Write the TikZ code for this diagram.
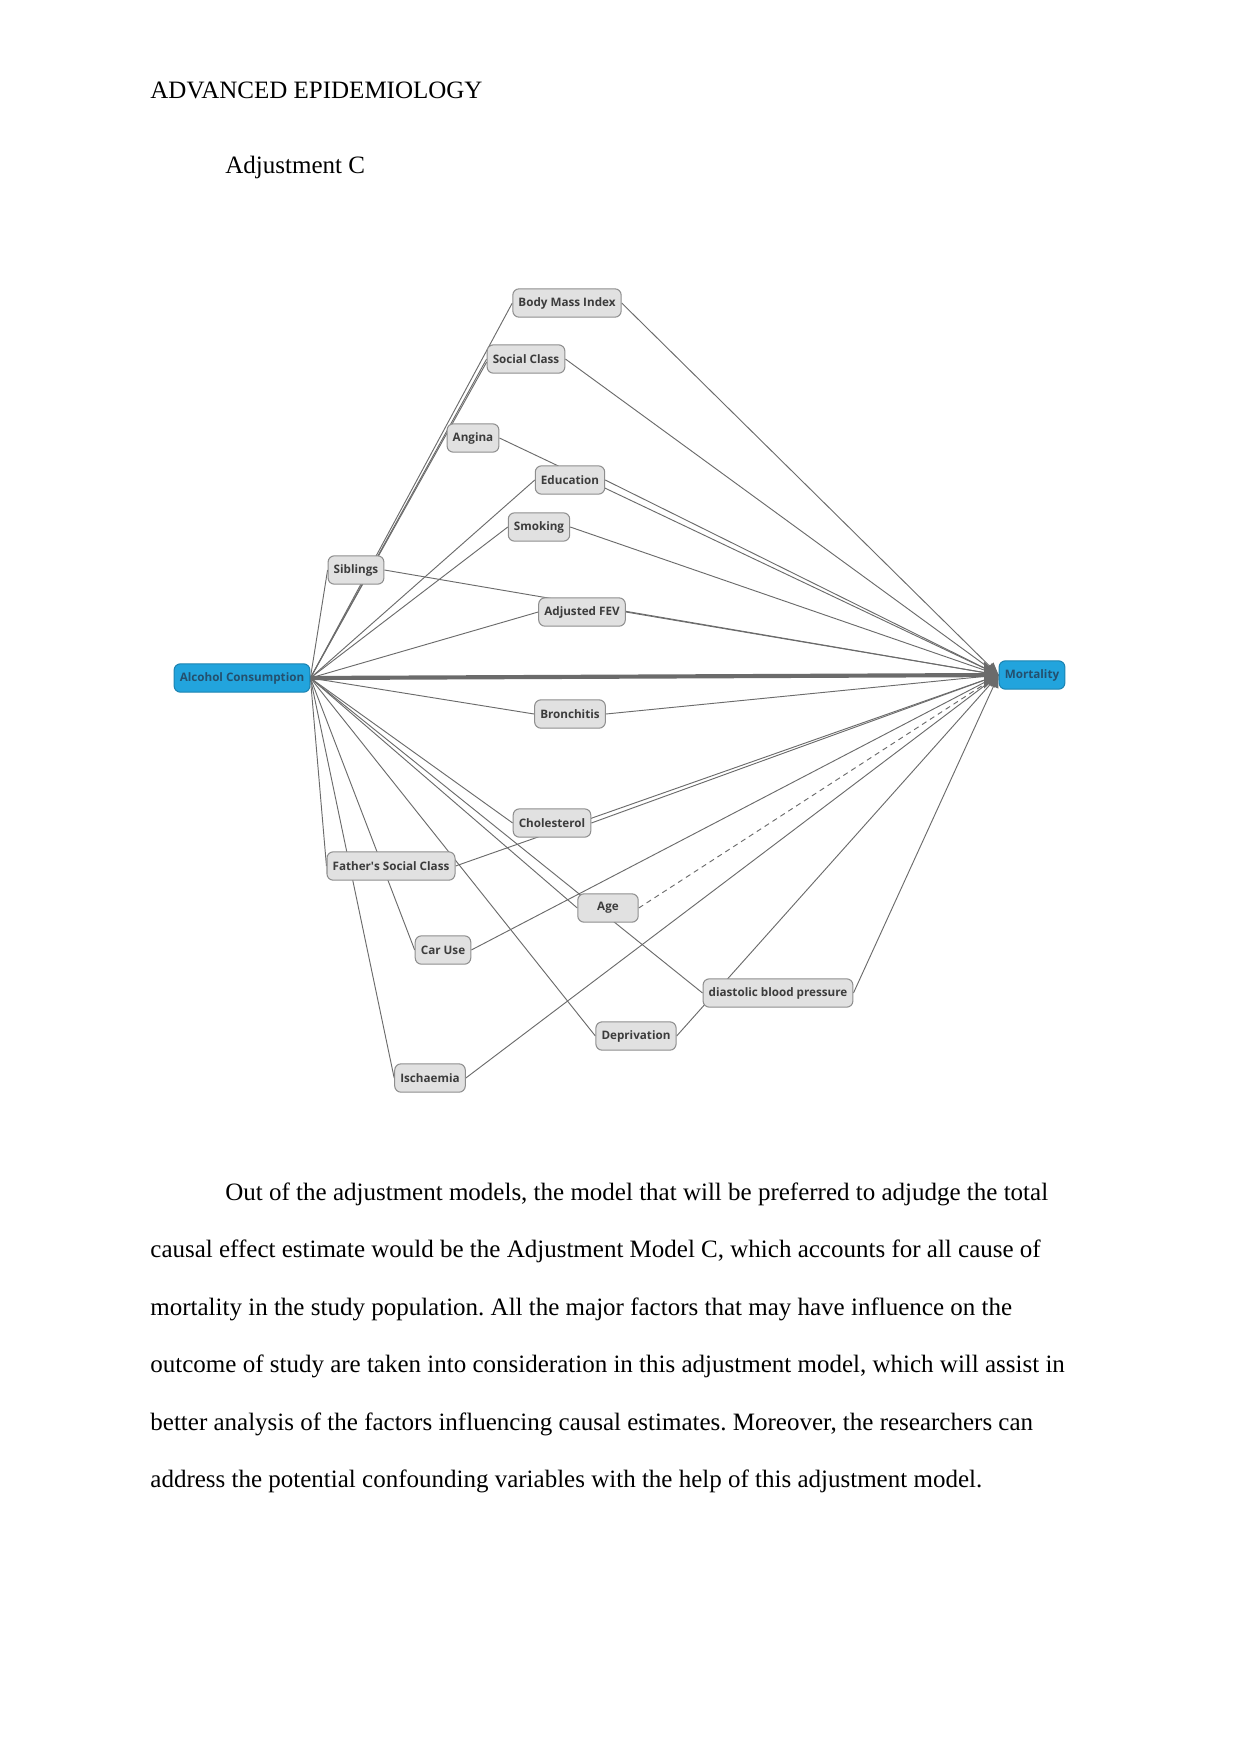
\documentclass[tikz,border=0pt]{standalone}
\usepackage{fontspec}
\setmainfont{Liberation Serif}
\newfontfamily\dagfont{Open Sans}
\usepackage{tikz}
\usetikzlibrary{arrows.meta,backgrounds}
\definecolor{nodegrey}{HTML}{E1E1E1}
\definecolor{edgegrey}{HTML}{6B6B6B}
\definecolor{framegrey}{HTML}{8E8E8E}
\definecolor{labelgrey}{HTML}{3C3C3C}
\definecolor{dagblue}{HTML}{22A4DD}
\definecolor{dagnavy}{HTML}{24506E}
\frenchspacing
\tikzset{
  varbox/.style={
    rectangle, rounded corners=3pt, draw=framegrey, fill=nodegrey,
    line width=0.5pt, minimum height=13.6pt,
    inner xsep=2.7pt, inner ysep=1pt, text=labelgrey,
    font=\dagfont\bfseries\fontsize{5.6}{7}\selectfont
  },
  keybox/.style={varbox, draw=dagblue!80!black, fill=dagblue, text=dagnavy},
  causal/.style={line width=0.45pt, color=edgegrey},
  tomort/.style={causal, -{Triangle[length=6pt,width=5pt]}},
  mainpath/.style={line width=2pt, color=edgegrey, -{Triangle[length=7pt,width=12.5pt]}},
  bodytext/.style={font=\fontsize{12}{14}\selectfont, inner sep=0pt, anchor=base west},
}

\begin{document}
\begin{tikzpicture}[x=0.48pt, y=-0.48pt]
  \useasboundingbox (0,0) rectangle (1241,1754);
  % page text
  \node[bodytext] (header) at (150,98) {ADVANCED EPIDEMIOLOGY};
  \node[bodytext] (caption) at (225,173) {Adjustment C};

  % exposure and outcome
  \node[keybox] (alc) at (242,678) {Alcohol Consumption};
  \node[keybox] (mort) at (1032,675) {Mortality};

  % covariates
  \node[varbox] (bmi) at (567,303) {Body Mass Index};
  \node[varbox] (socclass) at (526,359) {Social Class};
  \node[varbox] (angina) at (473,438) {Angina};
  \node[varbox] (educ) at (570,480) {Education};
  \node[varbox] (smoking) at (539,527) {Smoking};
  \node[varbox] (siblings) at (356,570) {Siblings};
  \node[varbox] (fev) at (582,612) {Adjusted FEV};
  \node[varbox] (bronch) at (570,714) {Bronchitis};
  \node[varbox] (chol) at (552,823) {Cholesterol};
  \node[varbox] (fsc) at (391,866) {Father\textquotesingle s Social Class};
  \node[varbox, minimum width=29pt] (age) at (608,908) {Age};
  \node[varbox] (caruse) at (443,950) {Car Use};
  \node[varbox] (dbp) at (778,993) {diastolic blood pressure};
  \node[varbox] (depriv) at (636,1036) {Deprivation};
  \node[varbox] (isch) at (430,1078) {Ischaemia};

  \begin{scope}[on background layer]
    % edges out of alcohol consumption
    \draw[causal] (alc.east) -- (siblings.west);
    \draw[causal] (alc.east) -- (bmi.west);
    \draw[causal] (alc.east) -- (socclass.west);
    \draw[causal] (alc.east) -- ([yshift=-1.5pt]socclass.west);
    \draw[causal] (alc.east) -- (educ.west);
    \draw[causal] (alc.east) -- (smoking.west);
    \draw[causal] (alc.east) -- (fev.west);
    \draw[causal] (alc.east) -- (bronch.west);
    \draw[causal] (alc.east) -- (chol.west);
    \draw[causal] (alc.east) -- (fsc.west);
    \draw[causal] (alc.east) -- (age.west);
    \draw[causal] (alc.east) -- (caruse.west);
    \draw[causal] (alc.east) -- (dbp.west);
    \draw[causal] (alc.east) -- (depriv.west);
    \draw[causal] (alc.east) -- (isch.west);
    % edges into mortality
    \draw[tomort] (bmi.east) -- (mort.west);
    \draw[tomort] (socclass.east) -- (mort.west);
    \draw[tomort] (angina.east) -- (mort.west);
    \draw[tomort] (educ.east) -- (mort.west);
    \draw[tomort] (smoking.east) -- (mort.west);
    \draw[tomort] (siblings.east) -- (mort.west);
    \draw[tomort] (fev.east) -- (mort.west);
    \draw[tomort] (bronch.east) -- (mort.west);
    \draw[tomort] (chol.east) -- (mort.west);
    \draw[tomort] (fsc.east) -- (mort.west);
    \draw[tomort] (caruse.east) -- (mort.west);
    \draw[tomort, dash pattern=on 2.5pt off 2pt] (age.east) -- (mort.west);
    \draw[tomort] (isch.east) -- (mort.west);
    \draw[tomort] (depriv.east) -- (mort.west);
    \draw[tomort] (dbp.east) -- (mort.west);
    \draw[mainpath] (alc.east) -- (mort.west);
  \end{scope}

  % discussion paragraph
  \node[bodytext] (line1) at (225,1200) {Out of the adjustment models, the model that will be preferred to adjudge the total};
  \node[bodytext] (line2) at (150,1257.5) {causal effect estimate would be the Adjustment Model C, which accounts for all cause of};
  \node[bodytext] (line3) at (150,1315) {mortality in the study population. All the major factors that may have influence on the};
  \node[bodytext] (line4) at (150,1372.5) {outcome of study are taken into consideration in this adjustment model, which will assist in};
  \node[bodytext] (line5) at (150,1430) {better analysis of the factors influencing causal estimates. Moreover, the researchers can};
  \node[bodytext] (line6) at (150,1487.5) {address the potential confounding variables with the help of this adjustment model.};
\end{tikzpicture}
\end{document}
